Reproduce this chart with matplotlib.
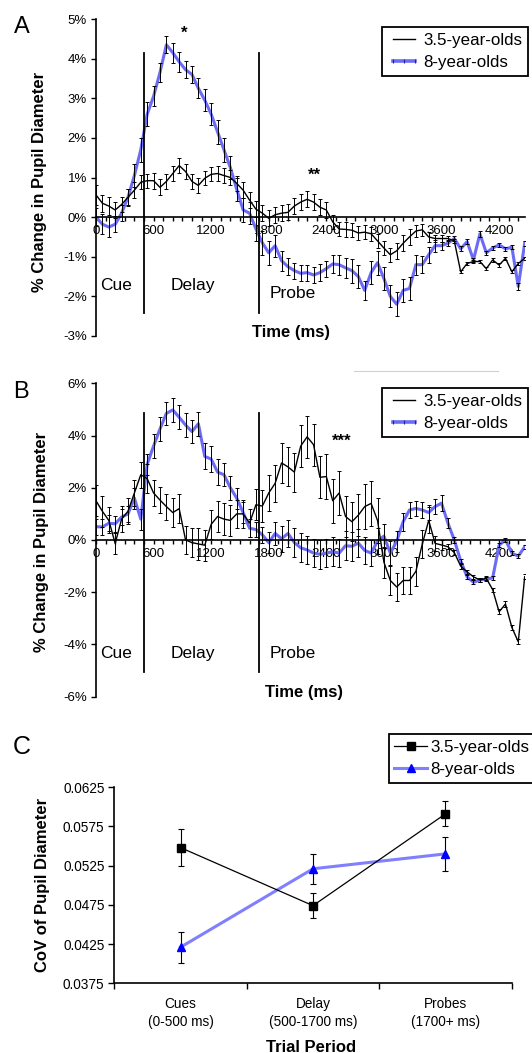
import numpy as np
import matplotlib.pyplot as plt
from matplotlib.lines import Line2D
from matplotlib.ticker import FuncFormatter, MultipleLocator

plt.rcParams['font.family'] = ['Liberation Sans', 'DejaVu Sans']

W, H = 532, 1053

# --- datos: muestras cada 1/15 s (ms) ---
time_ms = np.arange(68) * 1000 / 15
phase_bounds = [500, 1700]
x_tick_labels = [0, 600, 1200, 1800, 2400, 3000, 3600, 4200]

# panel A (% cambio del diametro pupilar)
a_young = [0.56, 0.35, 0.28, 0.18, 0.32, 0.5, 0.68, 0.88, 0.92, 0.92,
           0.75, 0.9, 1.1, 1.3, 1.15, 0.9, 0.8, 0.98, 1.08, 1.1,
           1.05, 1.0, 0.85, 0.68, 0.43, 0.2, 0.1, -0.03, 0.06, 0.1,
           0.12, 0.28, 0.38, 0.45, 0.38, 0.25, 0.18, -0.12, -0.3, -0.31,
           -0.33, -0.4, -0.38, -0.42, -0.6, -0.78, -0.95, -0.85, -0.66, -0.5,
           -0.35, -0.32, -0.5, -0.54, -0.54, -0.54, -0.6, -1.38, -1.17, -1.12,
           -1.12, -1.3, -1.08, -1.21, -1.04, -1.38, -1.17, -1.04]
a_young_err = [0.25, 0.22, 0.22, 0.2, 0.2, 0.2, 0.2, 0.18, 0.18, 0.2,
               0.2, 0.2, 0.18, 0.18, 0.2, 0.2, 0.2, 0.18, 0.18, 0.18,
               0.18, 0.18, 0.2, 0.2, 0.2, 0.2, 0.2, 0.2, 0.2, 0.2,
               0.2, 0.2, 0.2, 0.2, 0.2, 0.2, 0.2, 0.18, 0.18, 0.18,
               0.18, 0.18, 0.18, 0.18, 0.18, 0.18, 0.18, 0.2, 0.2, 0.2,
               0.15, 0.15, 0.12, 0.1, 0.08, 0.06, 0.05, 0.04, 0.04, 0.04,
               0.04, 0.04, 0.04, 0.04, 0.04, 0.04, 0.04, 0.04]
a_old = [0.0, -0.18, -0.25, -0.18, 0.1, 0.5, 1.05, 1.7, 2.6, 3.05,
         3.65, 4.35, 4.15, 3.92, 3.72, 3.6, 3.25, 2.95, 2.6, 2.15,
         1.7, 1.25, 0.7, 0.18, 0.1, -0.3, -0.65, -0.9, -0.72, -1.1,
         -1.25, -1.35, -1.42, -1.4, -1.46, -1.4, -1.3, -1.18, -1.2, -1.28,
         -1.35, -1.5, -1.85, -1.4, -1.15, -1.55, -2.0, -2.2, -1.85, -1.8,
         -1.2, -1.2, -0.95, -0.72, -0.72, -0.66, -0.54, -0.8, -0.62, -1.08,
         -0.42, -0.9, -0.78, -0.7, -0.8, -0.76, -1.75, -0.66]
a_old_err = [0.22, 0.25, 0.25, 0.2, 0.2, 0.22, 0.3, 0.3,
             0.3, 0.25, 0.25, 0.22, 0.25, 0.25, 0.22, 0.22, 0.25, 0.28, 0.28, 0.3, 0.3, 0.3, 0.3,
             0.3, 0.28, 0.3, 0.3, 0.3, 0.28, 0.25, 0.22,
             0.2, 0.2, 0.2, 0.2, 0.22, 0.2, 0.22, 0.25, 0.25, 0.3, 0.28, 0.25, 0.3, 0.3, 0.3,
             0.28, 0.3, 0.3, 0.3, 0.25, 0.22, 0.2, 0.15, 0.1, 0.08,
             0.06, 0.06, 0.06, 0.06, 0.08, 0.05, 0.05, 0.05, 0.05, 0.05, 0.1, 0.06]

# panel B
b_young = [1.5, 1.1, 0.75, -0.13, 0.8, 1.1, 1.8, 2.5, 2.35, 1.8,
           1.53, 1.28, 1.05, 1.2, 0.0, -0.1, -0.15, -0.2, 0.6, 0.9,
           0.8, 0.75, 1.0, 1.0, 0.65, 1.35, 1.3, 1.8, 2.17, 2.95,
           2.8, 2.6, 3.6, 3.95, 3.65, 2.4, 2.43, 1.5, 1.8, 0.9,
           0.7, 0.95, 1.28, 1.4, 0.75, -0.85, -1.55, -1.8, -1.55, -1.55,
           -1.2, -0.15, 0.75, -0.13, -0.19, -0.26, -0.48, -1.0, -1.22, -1.41,
           -1.53, -1.47, -1.9, -2.75, -2.45, -3.35, -3.9, -1.41]
b_young_err = [0.6, 0.6, 0.5, 0.4, 0.5, 0.5, 0.5, 0.5,
               0.55, 0.5, 0.5, 0.5, 0.55, 0.55, 0.55, 0.55, 0.6, 0.6, 0.55, 0.6, 0.6, 0.6, 0.55,
               0.55, 0.55, 0.6, 0.6,
               0.7, 0.7, 0.75, 0.75, 0.75, 0.8, 0.8, 0.8, 0.8, 0.85, 0.85, 0.85, 0.8, 0.75, 0.8,
               0.85, 0.85, 0.85,
               0.6, 0.55, 0.55, 0.5, 0.5, 0.55, 0.55, 0.5, 0.3, 0.2, 0.1,
               0.1, 0.1, 0.08, 0.08, 0.08, 0.08, 0.08, 0.1, 0.1, 0.1, 0.1, 0.1]
b_old = [0.51, 0.5, 0.64, 0.62, 0.88, 1.0, 1.6, 0.8, 2.9, 3.6,
         4.25, 4.85, 4.98, 4.7, 4.4, 4.15, 4.45, 3.2, 3.1, 2.6,
         2.5, 2.0, 1.6, 1.05, 0.45, 0.4, 0.2, -0.1, 0.25, 0.05,
         0.25, -0.1, -0.3, -0.38, -0.5, -0.55, -0.5, -0.45, -0.5, -0.22,
         -0.24, -0.12, -0.4, -0.5, -0.05, 0.15, -0.5, -0.05, 0.7, 1.15,
         1.21, 1.15, 1.05, 1.28, 1.41, 0.65, 0.0, -0.8, -1.41, -1.62,
         -1.53, -1.5, -1.45, -0.2, 0.0, -0.5, -0.62, -0.26]
b_old_err = [0.3, 0.3, 0.3, 0.3, 0.3, 0.3, 0.4, 0.4,
             0.4, 0.45, 0.45, 0.45, 0.45, 0.45, 0.45, 0.45, 0.45, 0.5, 0.5, 0.5, 0.45, 0.45, 0.4,
             0.4, 0.35, 0.3, 0.3,
             0.4, 0.45, 0.5, 0.5, 0.55, 0.55, 0.55, 0.55, 0.55, 0.55, 0.55, 0.55, 0.55, 0.55, 0.55,
             0.5, 0.5, 0.5,
             0.45, 0.45, 0.4, 0.35, 0.3, 0.3, 0.3, 0.3, 0.3, 0.3, 0.2,
             0.1, 0.08, 0.08, 0.08, 0.08, 0.08, 0.08, 0.08, 0.08, 0.08, 0.08, 0.08]

# panel C (CoV por periodo)
periods = ['Cues\n(0-500 ms)', 'Delay\n(500-1700 ms)', 'Probes\n(1700+ ms)']
cov_young = [0.0548, 0.0474, 0.0591]
cov_young_err = [0.0024, 0.0016, 0.0016]
cov_old = [0.0421, 0.0521, 0.0540]
cov_old_err = [0.0020, 0.0019, 0.0022]
cov_ticks = [0.0375, 0.0425, 0.0475, 0.0525, 0.0575, 0.0625]

labels = ['3.5-year-olds', '8-year-olds']
BLUE = '#6b6bf5'

fig = plt.figure(figsize=(W / 100, H / 100), dpi=100)


def ejes_px(left, top, right, bottom):
    return fig.add_axes([left / W, 1 - bottom / H, (right - left) / W, (bottom - top) / H])


def panel_tiempo(ax, young, young_err, old, old_err, ylim, ystep, vline_y, phase_y, leg_box):
    ax.plot(time_ms, old, color=BLUE, lw=2.2, zorder=2)
    ax.plot(time_ms, young, color='black', lw=1.0, zorder=3)
    for vals, errs in [(old, old_err), (young, young_err)]:
        ax.errorbar(time_ms, vals, yerr=errs, fmt='none', ecolor='black',
                    elinewidth=0.7, capsize=1.7, capthick=0.7, zorder=4)
    for xb in phase_bounds:
        ax.plot([xb, xb], vline_y, color='black', lw=1.3, zorder=5)
    ax.set_xlim(0, 4470)
    ax.set_ylim(*ylim)
    ax.spines['bottom'].set_position(('data', 0))
    ax.spines[['top', 'right']].set_visible(False)
    for s in ['left', 'bottom']:
        ax.spines[s].set_linewidth(1.2)
    ax.set_xticks(x_tick_labels)
    ax.set_xticklabels([str(v) for v in x_tick_labels])
    ax.xaxis.set_minor_locator(MultipleLocator(100))
    ax.tick_params(axis='x', which='both', direction='out', length=3, width=1, pad=3, labelsize=9.5)
    ax.yaxis.set_major_locator(MultipleLocator(ystep))
    ax.yaxis.set_major_formatter(FuncFormatter(lambda v, p: f'{v:.0f}%'))
    ax.tick_params(axis='y', direction='out', length=3.6, width=1, pad=3, labelsize=9.5)
    ax.text(208, phase_y[0], 'Cue', ha='center', va='center', fontsize=12.5)
    ax.text(1005, phase_y[0], 'Delay', ha='center', va='center', fontsize=12.5)
    ax.text(2050, phase_y[1], 'Probe', ha='center', va='center', fontsize=12.5)
    handles = [Line2D([], [], color='black', lw=1.0),
               Line2D([], [], color=BLUE, lw=2.6, marker='|', markersize=3,
                      markeredgecolor='#2020a0', markeredgewidth=0.8)]
    ax.legend(handles, labels, loc='upper left', bbox_to_anchor=(leg_box[0] / W, 1 - leg_box[1] / H),
              bbox_transform=fig.transFigure, borderaxespad=0, fontsize=12.2, frameon=True,
              fancybox=False, framealpha=1, edgecolor='black', handlelength=1.9,
              handletextpad=0.2, labelspacing=0.4, borderpad=0.35, numpoints=3)
    ax.get_legend().get_frame().set_linewidth(1.3)


# --- A ---
ax_a = ejes_px(96, 19, 525, 336)
panel_tiempo(ax_a, a_young, a_young_err, a_old, a_old_err, (-3, 5), 1,
             [-2.42, 4.14], [-1.72, -1.92], (381.7, 27))
ax_a.text(917, 4.64, '*', ha='center', va='center', fontsize=12, fontweight='bold')
ax_a.text(2281, 1.06, '**', ha='center', va='center', fontsize=12, fontweight='bold')

# --- B ---
ax_b = ejes_px(96, 383.3, 525, 696.7)
panel_tiempo(ax_b, b_young, b_young_err, b_old, b_old_err, (-6, 6), 2,
             [-5.05, 4.88], [-4.34, -4.34], (381.7, 388.3))
ax_b.text(2559, 3.79, '***', ha='center', va='center', fontsize=12, fontweight='bold')
fig.add_artist(Line2D([354 / W, 498 / W], [1 - 371 / H, 1 - 371 / H], color='#d0d0d0', lw=0.8))

# --- C ---
ax_c = ejes_px(114.3, 787.2, 511.7, 983.3)
xc = np.arange(len(periods))
ax_c.errorbar(xc, cov_old, yerr=cov_old_err, fmt='none', ecolor='black',
              elinewidth=0.8, capsize=2.2, capthick=0.8, zorder=2)
ax_c.errorbar(xc, cov_young, yerr=cov_young_err, fmt='none', ecolor='black',
              elinewidth=0.8, capsize=2.2, capthick=0.8, zorder=2)
ax_c.plot(xc, cov_old, color='#8080ff', lw=2.2, marker='^', markersize=6,
          markerfacecolor='#0000ff', markeredgecolor='#0000ff', zorder=3, label=labels[1])
ax_c.plot(xc, cov_young, color='black', lw=0.9, marker='s', markersize=5.5,
          markerfacecolor='black', zorder=4, label=labels[0])
ax_c.set_xlim(-0.5, 2.5)
ax_c.set_ylim(cov_ticks[0], cov_ticks[-1])
ax_c.set_yticks(cov_ticks)
ax_c.yaxis.set_major_formatter(FuncFormatter(lambda v, p: f'{v:.4f}'))
ax_c.set_xticks(xc)
ax_c.set_xticklabels(periods)
ax_c.set_xticks(np.arange(-0.5, 3, 1), minor=True)
ax_c.tick_params(axis='x', which='major', length=0, pad=10, labelsize=9.8)
ax_c.tick_params(axis='x', which='minor', direction='out', length=4, width=1)
ax_c.tick_params(axis='y', direction='out', length=4, width=1, pad=3, labelsize=9.8)
for t in ax_c.get_xticklabels():
    t.set_linespacing(1.35)
ax_c.spines[['top', 'right']].set_visible(False)
for s in ['left', 'bottom']:
    ax_c.spines[s].set_linewidth(1.2)
hc, lc = ax_c.get_legend_handles_labels()
leg_c = ax_c.legend(hc[::-1], lc[::-1], loc='upper left', bbox_to_anchor=(388.5 / W, 1 - 734 / H),
                    bbox_transform=fig.transFigure, borderaxespad=0, fontsize=12.2,
                    fancybox=False, framealpha=1, edgecolor='black', handlelength=1.9,
                    handletextpad=0.2, labelspacing=0.4, borderpad=0.35, numpoints=1)
leg_c.get_frame().set_linewidth(1.3)

# --- textos de figura ---
fig.text(22 / W, 1 - 27 / H, 'A', fontsize=17, ha='center', va='center')
fig.text(21 / W, 1 - 392 / H, 'B', fontsize=17, ha='center', va='center')
fig.text(22 / W, 1 - 747 / H, 'C', fontsize=18, ha='center', va='center')
fig.text(40 / W, 1 - 182 / H, '% Change in Pupil Diameter', rotation=90, fontsize=12,
         fontweight='bold', ha='center', va='center')
fig.text(42 / W, 1 - 542 / H, '% Change in Pupil Diameter', rotation=90, fontsize=12,
         fontweight='bold', ha='center', va='center')
fig.text(43 / W, 1 - 885 / H, 'CoV of Pupil Diameter', rotation=90, fontsize=12,
         fontweight='bold', ha='center', va='center')
fig.text(291 / W, 1 - 332 / H, 'Time (ms)', fontsize=12, fontweight='bold', ha='center', va='center')
fig.text(304 / W, 1 - 693 / H, 'Time (ms)', fontsize=12, fontweight='bold', ha='center', va='center')
fig.text(311 / W, 1 - 1047 / H, 'Trial Period', fontsize=12, fontweight='bold', ha='center', va='center')

fig.savefig('out.png', dpi=100)
